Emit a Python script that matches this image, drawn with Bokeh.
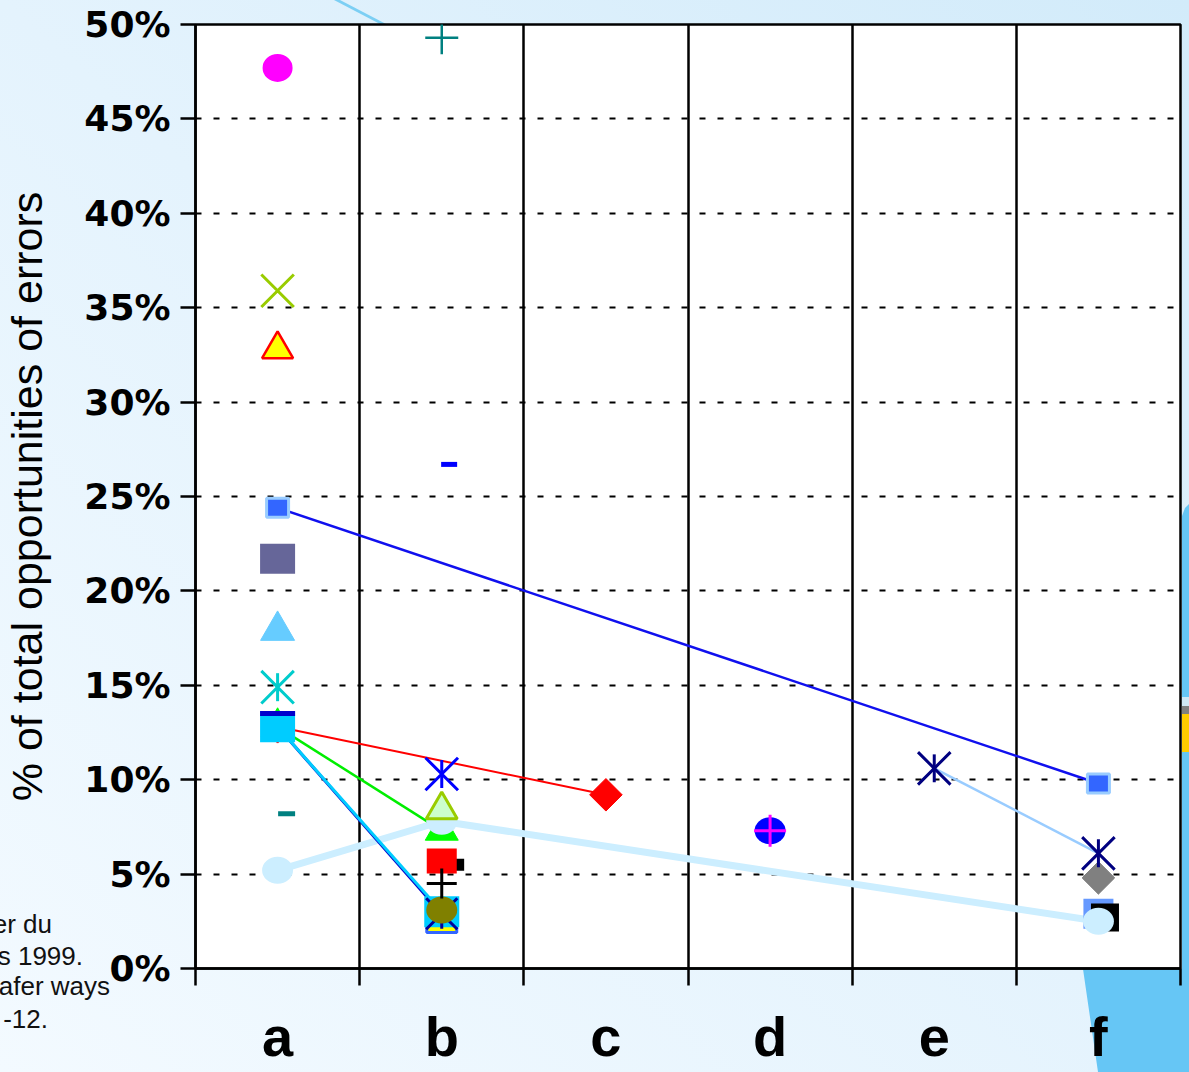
import math
from urllib.parse import quote
from bokeh.plotting import figure
from bokeh.models import Range1d, FixedTicker
from bokeh.embed import file_html
from bokeh.resources import INLINE

# ---------------- data ----------------
categories = ["a", "b", "c", "d", "e", "f"]
y_ticks = [0, 5, 10, 15, 20, 25, 30, 35, 40, 45, 50]
y_tick_labels = ["0%", "5%", "10%", "15%", "20%", "25%", "30%", "35%", "40%", "45%", "50%"]
y_title = "% of total opportunities of errors"
source_lines = ["er du", "s 1999.", "afer ways", "-12."]

# series connected by lines (values in %, None = no point)
blue_square    = [24.4, None, None, None, None, 9.8]
red_diamond    = [12.8, None, 9.2, None, None, None]
green_triangle = [12.8, 7.3, None, None, None, None]
blue_line      = [12.8, 2.9, None, None, None, None]
cyan_square    = [12.8, 3.0, None, None, None, None]
pale_circle    = [5.2, 7.8, None, None, None, 2.5]
navy_asterisk  = [None, None, None, None, 10.6, 6.1]

# single-point series
magenta_circle  = [47.7, None, None, None, None, None]
lime_x          = [35.9, None, None, None, None, None]
yellow_triangle = [32.8, None, None, None, None, None]
slate_square    = [21.7, None, None, None, None, None]
sky_triangle    = [17.9, None, None, None, None, None]
teal_asterisk   = [14.9, None, None, None, None, None]
navy_dash       = [13.5, None, None, None, None, None]
teal_dash       = [8.2, None, None, None, None, None]
teal_plus       = [None, 49.3, None, None, None, None]
blue_dash       = [None, 26.7, None, None, None, None]
blue_star       = [None, 10.3, None, None, None, None]
mint_triangle   = [None, 8.4, None, None, None, None]
red_square      = [None, 5.7, None, None, None, None]
black_small_sq  = [None, 5.5, None, None, None, None]
black_plus      = [None, 4.5, None, None, None, None]
olive_circle    = [None, 3.1, None, None, None, None]
yellow_square   = [None, 2.7, None, None, None, None]
navy_star_b     = [None, 2.9, None, None, None, None]
blue_circle     = [None, None, None, 7.3, None, None]
magenta_plus    = [None, None, None, 7.3, None, None]
gray_diamond    = [None, None, None, None, None, 4.8]
periwinkle_sq   = [None, None, None, None, None, 2.9]
black_square    = [None, None, None, None, None, 2.7]


def pts(vals, shift=0.0):
    xs = [i + 0.5 + shift for i, v in enumerate(vals) if v is not None]
    ys = [v for v in vals if v is not None]
    return xs, ys


FONT = "Liberation Sans"
W, H = 1189, 1072
LEFT, RIGHT, TOP, BOTTOM = 195, 9, 24, 104

p = figure(width=W, height=H, x_range=Range1d(0, len(categories)), y_range=Range1d(0, 50),
           output_backend="svg", toolbar_location=None,
           min_border_left=LEFT, min_border_right=RIGHT, min_border_top=TOP, min_border_bottom=BOTTOM)

p.background_fill_color = "white"
p.border_fill_color = None
p.outline_line_color = "black"
p.outline_line_width = 2.5

# x axis: labels at category centres, ticks at category boundaries
centres = [i + 0.5 for i in range(len(categories))]
bounds = list(range(len(categories) + 1))
p.xaxis.ticker = FixedTicker(ticks=centres, minor_ticks=bounds)
p.xaxis.major_label_overrides = {c: lab for c, lab in zip(centres, categories)}
p.xaxis.major_tick_line_color = None
p.xaxis.major_tick_out = 0
p.xaxis.major_tick_in = 0
p.xaxis.minor_tick_line_color = "black"
p.xaxis.minor_tick_line_width = 2.5
p.xaxis.minor_tick_out = 17
p.xaxis.minor_tick_in = 0
p.xaxis.axis_line_width = 2.5
p.xaxis.major_label_text_font = FONT
p.xaxis.major_label_text_font_size = "56px"
p.xaxis.major_label_text_font_style = "bold"
p.xaxis.major_label_text_color = "black"
p.xaxis.major_label_standoff = 19

# y axis
p.yaxis.ticker = FixedTicker(ticks=y_ticks)
p.yaxis.major_label_overrides = {t: lab for t, lab in zip(y_ticks, y_tick_labels)}
p.yaxis.major_tick_out = 15
p.yaxis.major_tick_in = 0
p.yaxis.major_tick_line_width = 2.5
p.yaxis.axis_line_width = 2.5
p.yaxis.major_label_text_font = "DejaVu Sans"
p.yaxis.major_label_text_font_size = "36px"
p.yaxis.major_label_text_font_style = "bold"
p.yaxis.major_label_text_color = "black"
p.yaxis.major_label_standoff = 10
p.yaxis.axis_label = y_title
p.yaxis.axis_label_text_font = FONT
p.yaxis.axis_label_text_font_size = "43px"
p.yaxis.axis_label_text_font_style = "normal"
p.yaxis.axis_label_text_color = "black"
p.yaxis.axis_label_standoff = 30

# grids
p.xgrid.ticker = FixedTicker(ticks=bounds)
p.xgrid.grid_line_color = "black"
p.xgrid.grid_line_width = 2.5
p.ygrid.grid_line_color = "black"
p.ygrid.grid_line_width = 2.2
p.ygrid.grid_line_dash = "6 12"

# ---------------- lines ----------------
for vals, col, lw in [(pale_circle, "#cceeff", 7), (navy_asterisk, "#99ccff", 2.5),
                      (blue_square, "#1010ee", 2.5), (red_diamond, "#ff0000", 2),
                      (green_triangle, "#00ee00", 2.5), (blue_line, "#0000cc", 3),
                      (cyan_square, "#00ccff", 3)]:
    xs, ys = pts(vals)
    p.line(xs, ys, line_color=col, line_width=lw)


# ---------------- markers ----------------
def scatter(vals, marker, size, fill=None, line=None, lw=1.0, shift=0.0, angle=0.0):
    xs, ys = pts(vals, shift)
    p.scatter(xs, ys, marker=marker, size=size, fill_color=fill, line_color=line,
              line_width=lw, angle=angle)


def star(vals, col, lw=3, width=46, height=28):
    # Excel-style asterisk: a wide X plus a vertical bar
    scatter(vals, "x", width, line=col, lw=lw)
    scatter(vals, "dash", height, line=col, lw=lw, angle=math.pi / 2)


def rect(vals, w, h, fill, line=None, lw=0.0, shift=0.0):
    xs, ys = pts(vals, shift)
    p.rect(xs, ys, width=w, height=h, width_units="screen", height_units="screen",
           fill_color=fill, line_color=line, line_width=lw)


def ellipse(vals, fill, w=31, h=27):
    xs, ys = pts(vals)
    p.ellipse(xs, ys, width=w, height=h, width_units="screen", height_units="screen",
              fill_color=fill, line_color=None)


ellipse(magenta_circle, "#ff00ff", 30, 28)
scatter(lime_x, "x", 46, line="#99cc00", lw=3)
scatter(yellow_triangle, "triangle", 31, fill="#ffff00", line="#ff0000", lw=2.5)
rect(blue_square, 22, 19, "#3366ff", "#99ccff", 3)
rect(slate_square, 35, 30, "#666699")
scatter(sky_triangle, "triangle", 34, fill="#66ccff", line="#66ccff", lw=1)
star(teal_asterisk, "#00cccc")
scatter(teal_dash, "dash", 17, line="#008080", lw=5, shift=0.055)
scatter(teal_plus, "cross", 33, line="#008080", lw=2.5)
scatter(blue_dash, "dash", 16, line="#0000ff", lw=5, shift=0.045)
scatter(red_diamond, "square", 23, fill="#ff0000", line="#ff0000", lw=1, angle=math.pi / 4)
scatter(green_triangle, "triangle", 33, fill="#00ff00", line="#00ff00", lw=1)
rect(periwinkle_sq, 30, 30, "#6699ff")
rect(black_square, 28, 28, "#000000", shift=0.04)
scatter(gray_diamond, "square", 23, fill="#808080", line="#808080", lw=1, angle=math.pi / 4)
ellipse(pale_circle, "#cceeff")
scatter(mint_triangle, "triangle", 31, fill="#ccffcc", line="#99cc00", lw=3)
star(blue_star, "#0000ff")
rect(black_small_sq, 12, 12, "#000000", shift=0.1)
rect(red_square, 30, 25, "#ff0000")
rect(yellow_square, 30, 30, "#ffff00", "#3366ff", 3)
rect(cyan_square, 35, 31, "#00ccff")
scatter(navy_dash, "dash", 35, line="#0000cc", lw=5)
star(navy_star_b, "#000099", width=44, height=30)
ellipse(olive_circle, "#808000")
scatter(black_plus, "cross", 30, line="#000000", lw=3)
ellipse(blue_circle, "#0000ff")
scatter(magenta_plus, "cross", 32, line="#ff00ff", lw=3)
star(navy_asterisk, "#000080")

# ---------------- slide decoration behind the chart (page background) ----------------
deco_svg = (
    "<svg xmlns='http://www.w3.org/2000/svg' width='1189' height='1072'>"
    "<polygon points='334,0 340,0 386,24 380,24' fill='#7ccff4'/>"
    "<polygon points='1182,516 1185,508 1189,504 1189,1072 1098,1072 1083,969 1182,969' fill='#66c6f5'/>"
    "<rect x='1182' y='697' width='7' height='9' fill='#cfe8f5'/>"
    "<rect x='1182' y='706' width='7' height='8' fill='#808080'/>"
    "<rect x='1182' y='714' width='7' height='38' fill='#ffcc00'/>"
    "</svg>"
)
bg = ("url(\"data:image/svg+xml;utf8," + quote(deco_svg) + "\") no-repeat 0 0,"
      "linear-gradient(to bottom left,#d2ebfa 0%,#e4f3fd 50%,#f3faff 100%)")
css = "<style>html,body{margin:0;padding:0;overflow:hidden;}body{background:" + bg + ";}</style>"

# source note of the slide, partly cut off at the left edge of the page
note_pos = [(52, 933), (83, 965), (110, 995), (48, 1028)]
note_html = "".join(
    "<div style=\"position:absolute;left:%dpx;top:%dpx;width:300px;text-align:right;"
    "font-family:'Liberation Sans',sans-serif;font-size:26px;line-height:26px;color:#111;"
    "white-space:nowrap;z-index:5;\">%s</div>" % (rx - 300, by - 22, txt)
    for txt, (rx, by) in zip(source_lines, note_pos)
)

html = file_html(p, INLINE, title="chart")
html = html.replace("<head>", "<head>" + css, 1)
cut = html.rfind("</body>")
html = html[:cut] + note_html + html[cut:]
open("out.html", "w").write(html)
